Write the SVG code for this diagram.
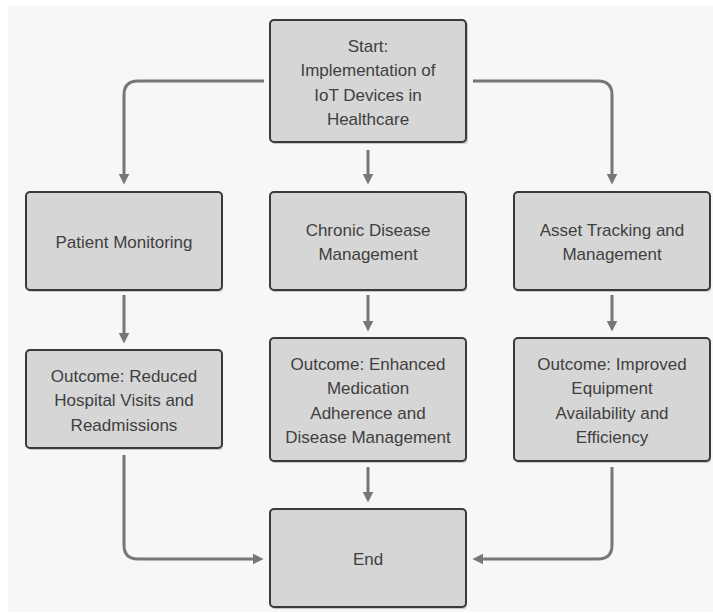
<svg xmlns="http://www.w3.org/2000/svg" width="713" height="613" viewBox="0 0 713 613">
<style>
.box{fill:#d6d6d6;stroke:#3a3a3a;stroke-width:2}
.sh{fill:#9a9a9a;opacity:0.5}
.t{font-family:"Liberation Sans",Arial,sans-serif;font-size:17px;fill:#3f3f3f;text-anchor:middle;dominant-baseline:central}
.c{fill:none;stroke:#777777;stroke-width:3;marker-end:url(#ah)}
</style>
<defs>
<marker id="ah" viewBox="0 0 10 10" markerWidth="11" markerHeight="11" markerUnits="userSpaceOnUse" refX="4" refY="5" orient="auto">
<path d="M0,0 L10,5 L0,10 z" fill="#777777"/>
</marker>
</defs>
<rect x="0" y="0" width="713" height="613" fill="#ffffff"/>
<rect x="8" y="6" width="705" height="606" fill="#f7f7f7"/>
<g id="connectors">
<path class="c" d="M264,81 H138 Q124,81 124,95 V178"/>
<path class="c" d="M368,150 V178"/>
<path class="c" d="M473,81 H598 Q612,81 612,95 V178"/>
<path class="c" d="M124,295 V337"/>
<path class="c" d="M368,295 V325"/>
<path class="c" d="M612,295 V325"/>
<path class="c" d="M124,455 V545 Q124,559 138,559 H257"/>
<path class="c" d="M368,467 V496"/>
<path class="c" d="M612,467 V545 Q612,559 598,559 H479"/>
</g>
<g id="start">
<rect class="sh" x="271" y="22" width="197" height="122" rx="4"/>
<rect class="box" x="270" y="20" width="196" height="122" rx="4"/>
<text class="t" x="368" y="46">Start:</text>
<text class="t" x="368" y="70.5">Implementation of</text>
<text class="t" x="368" y="95">IoT Devices in</text>
<text class="t" x="368" y="119.5">Healthcare</text>
</g>
<g id="patient">
<rect class="sh" x="27" y="194" width="196" height="98" rx="4"/>
<rect class="box" x="26" y="192" width="196" height="98" rx="4"/>
<text class="t" x="124" y="242">Patient Monitoring</text>
</g>
<g id="chronic">
<rect class="sh" x="271" y="194" width="196" height="98" rx="4"/>
<rect class="box" x="270" y="192" width="196" height="98" rx="4"/>
<text class="t" x="368" y="230">Chronic Disease</text>
<text class="t" x="368" y="254.5">Management</text>
</g>
<g id="asset">
<rect class="sh" x="515" y="194" width="196" height="98" rx="4"/>
<rect class="box" x="514" y="192" width="196" height="98" rx="4"/>
<text class="t" x="612" y="230">Asset Tracking and</text>
<text class="t" x="612" y="254.5">Management</text>
</g>
<g id="outcome1">
<rect class="sh" x="27" y="352" width="196" height="98" rx="4"/>
<rect class="box" x="26" y="350" width="196" height="98" rx="4"/>
<text class="t" x="124" y="376">Outcome: Reduced</text>
<text class="t" x="124" y="400.5">Hospital Visits and</text>
<text class="t" x="124" y="425">Readmissions</text>
</g>
<g id="outcome2">
<rect class="sh" x="271" y="340" width="196" height="123" rx="4"/>
<rect class="box" x="270" y="338" width="196" height="123" rx="4"/>
<text class="t" x="368" y="364">Outcome: Enhanced</text>
<text class="t" x="368" y="388.5">Medication</text>
<text class="t" x="368" y="413">Adherence and</text>
<text class="t" x="368" y="437.5">Disease Management</text>
</g>
<g id="outcome3">
<rect class="sh" x="515" y="340" width="196" height="123" rx="4"/>
<rect class="box" x="514" y="338" width="196" height="123" rx="4"/>
<text class="t" x="612" y="364">Outcome: Improved</text>
<text class="t" x="612" y="388.5">Equipment</text>
<text class="t" x="612" y="413">Availability and</text>
<text class="t" x="612" y="437.5">Efficiency</text>
</g>
<g id="end">
<rect class="sh" x="271" y="511" width="196" height="98" rx="4"/>
<rect class="box" x="270" y="509" width="196" height="98" rx="4"/>
<text class="t" x="368" y="559">End</text>
</g>
</svg>
